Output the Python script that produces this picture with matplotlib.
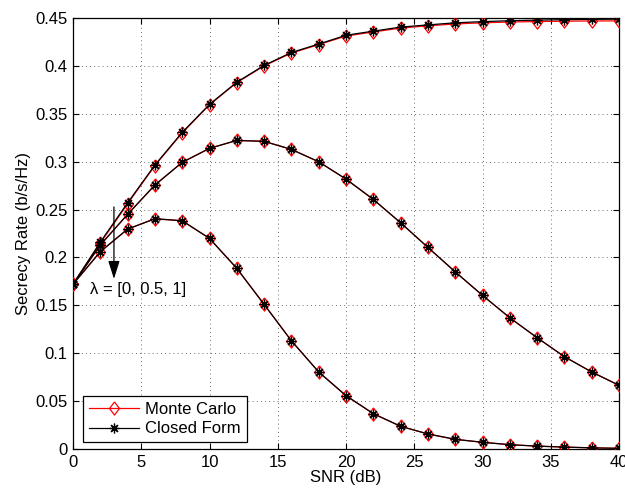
import matplotlib
matplotlib.use("Agg")
import matplotlib.pyplot as plt

snr = [0, 2, 4, 6, 8, 10, 12, 14, 16, 18, 20, 22, 24, 26, 28, 30, 32, 34, 36, 38, 40]

cf_lam0 = [0.172, 0.216, 0.257, 0.2965, 0.3306, 0.3598, 0.383, 0.4005, 0.414, 0.4228, 0.432,
           0.4363, 0.4405, 0.4428, 0.445, 0.4462, 0.4472, 0.4478, 0.4483, 0.4486, 0.4488]
cf_lam05 = [0.172, 0.213, 0.245, 0.2756, 0.2993, 0.3139, 0.3222, 0.3212, 0.3128, 0.2999, 0.2818,
            0.2606, 0.2362, 0.2105, 0.185, 0.1604, 0.137, 0.1162, 0.0964, 0.0804, 0.0665]
cf_lam1 = [0.172, 0.206, 0.2296, 0.2404, 0.2383, 0.2199, 0.1886, 0.151, 0.113, 0.0804, 0.0557,
           0.0369, 0.0237, 0.0157, 0.0101, 0.007, 0.0045, 0.003, 0.002, 0.0012, 0.0007]

mc_lam0 = [0.172, 0.215, 0.256, 0.2960, 0.3300, 0.3594, 0.3826, 0.4000, 0.4134, 0.4222, 0.4312,
           0.4354, 0.4395, 0.4418, 0.4438, 0.4450, 0.4458, 0.4463, 0.4467, 0.4469, 0.4470]
mc_lam05 = cf_lam05
mc_lam1 = cf_lam1

legend_labels = ["Monte Carlo", "Closed Form"]
annotation = "\u03bb = [0, 0.5, 1]"
xlabel = "SNR (dB)"
ylabel = "Secrecy Rate (b/s/Hz)"

plt.rcParams['font.family'] = ['Liberation Sans', 'DejaVu Sans']
fig = plt.figure(figsize=(6.25, 4.92), dpi=100)
ax = fig.add_axes([0.1168, 0.0874, 0.8736, 0.876])

asterisk = (8, 2, 0)
diamond = [(0, 1), (0.75, 0), (0, -1), (-0.75, 0), (0, 1)]
mc_lines = []
for mc in (mc_lam0, mc_lam05, mc_lam1):
    l, = ax.plot(snr, mc, color='red', lw=0.9, marker=diamond, markersize=9.5,
                 markerfacecolor='none', markeredgecolor='red', markeredgewidth=0.9, zorder=3)
    mc_lines.append(l)
cf_lines = []
for cf in (cf_lam0, cf_lam05, cf_lam1):
    l, = ax.plot(snr, cf, color='black', lw=0.9, marker=asterisk, markersize=7,
                 markeredgecolor='black', markeredgewidth=0.9, zorder=4)
    cf_lines.append(l)

ax.set_xlim(0, 40)
ax.set_ylim(0, 0.45)
ax.set_xticks(range(0, 41, 5))
ax.set_yticks([0, 0.05, 0.1, 0.15, 0.2, 0.25, 0.3, 0.35, 0.4, 0.45])
ax.set_yticklabels(['0', '0.05', '0.1', '0.15', '0.2', '0.25', '0.3', '0.35', '0.4', '0.45'])
ax.grid(True, linestyle=(0, (1, 4)), color='black', linewidth=0.6, alpha=0.75)
ax.tick_params(direction='in', top=True, right=True, labelsize=12, length=4, width=0.8, pad=4)
for s in ax.spines.values():
    s.set_linewidth(0.9)
ax.set_xlabel(xlabel, fontsize=12, labelpad=0)
ax.set_ylabel(ylabel, fontsize=12, labelpad=3)

ax.annotate('', xy=(3, 0.1747), xytext=(3, 0.2557),
            arrowprops=dict(arrowstyle='-|>,head_length=1.1,head_width=0.35', color='black', lw=0.9))
ax.text(1.25, 0.167, annotation, fontsize=12, va='center', ha='left')

leg = ax.legend([mc_lines[0], cf_lines[0]], legend_labels, loc='lower left',
                bbox_to_anchor=(0.012, 0.008), fontsize=12, fancybox=False, framealpha=1,
                edgecolor='black', handlelength=3.0, borderpad=0.35, labelspacing=0.25,
                handletextpad=0.4, borderaxespad=0.2)
leg.get_frame().set_linewidth(0.9)

fig.savefig('out.png', dpi=100)
